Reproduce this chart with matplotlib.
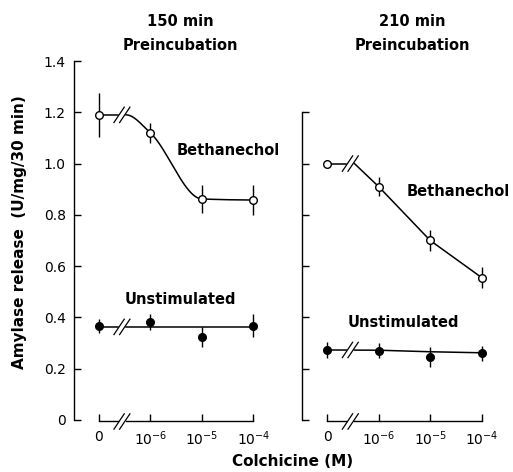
import numpy as np
from matplotlib import pyplot as plt

# x positions: 0, 1e-6, 1e-5, 1e-4 M colchicine (drawn on a categorical axis)
conc_labels = ['0', r'$10^{-6}$', r'$10^{-5}$', r'$10^{-4}$']
xpos = np.arange(4)

# 150 min preincubation
beth_150 = [1.19, 1.12, 0.862, 0.858]
beth_150_err = [0.085, 0.04, 0.055, 0.06]
unst_150 = [0.367, 0.382, 0.324, 0.367]
unst_150_err = [0.027, 0.03, 0.04, 0.045]
unst_150_fit = 0.363

# 210 min preincubation
beth_210 = [1.0, 0.91, 0.70, 0.555]
beth_210_err = [0.015, 0.036, 0.042, 0.04]
unst_210 = [0.273, 0.27, 0.246, 0.26]
unst_210_err = [0.03, 0.03, 0.04, 0.03]
unst_210_fit = [0.273, 0.272, 0.266, 0.262]

yticks = [0, 0.2, 0.4, 0.6, 0.8, 1.0, 1.2, 1.4]
ytick_labels = ['0', '0.2', '0.4', '0.6', '0.8', '1.0', '1.2', '1.4']

BRK = 0.45   # where the axis / lines are broken
GAP = 0.08
YB = -0.006  # level of the x axis line


def pchip(x, y, xs):
    # monotone cubic through the points, flat at both ends
    x = np.asarray(x, float); y = np.asarray(y, float)
    h = np.diff(x); d = np.diff(y) / h
    m = np.zeros(len(x))
    for k in range(1, len(x) - 1):
        if d[k - 1] * d[k] > 0:
            w1 = 2 * h[k] + h[k - 1]; w2 = h[k] + 2 * h[k - 1]
            m[k] = (w1 + w2) / (w1 / d[k - 1] + w2 / d[k])
    out = []
    for v in xs:
        i = min(np.searchsorted(x, v) - 1, len(x) - 2)
        i = max(i, 0)
        t = (v - x[i]) / h[i]
        h00 = 2*t**3 - 3*t**2 + 1; h10 = t**3 - 2*t**2 + t
        h01 = -2*t**3 + 3*t**2; h11 = t**3 - t**2
        out.append(h00*y[i] + h10*h[i]*m[i] + h01*y[i+1] + h11*h[i]*m[i+1])
    return np.array(out)


def slashes(ax, xc, y):
    for off in (-0.055, 0.055):
        ax.plot([xc + off - 0.1, xc + off + 0.1], [y - 0.03, y + 0.03],
                color='k', lw=0.9, clip_on=False)


def setup(ax, top, labels):
    ax.set_xlim(-0.48, 3.12)
    ax.set_ylim(YB, 1.42)
    for s in ['top', 'right', 'bottom']:
        ax.spines[s].set_visible(False)
    ax.spines['left'].set_bounds(0, top)
    ax.spines['left'].set_linewidth(1)
    ax.set_yticks([t for t in yticks if t <= top + 1e-9])
    if labels:
        ax.set_yticklabels(ytick_labels[:len(ax.get_yticks())])
    else:
        ax.set_yticklabels([])
    ax.set_xticks(xpos)
    ax.set_xticklabels(conc_labels)
    ax.tick_params(axis='both', direction='in', length=5, width=1,
                   labelsize=10, pad=6)
    # broken x axis
    ax.plot([0, BRK - GAP], [YB, YB], color='k', lw=1, clip_on=False)
    ax.plot([BRK + GAP, 3], [YB, YB], color='k', lw=1, clip_on=False)
    slashes(ax, BRK, YB)


def points(ax, y, err, filled):
    ax.errorbar(xpos, y, yerr=err, fmt='o', ms=5.5, mew=1,
                mec='k', mfc='k' if filled else 'white', ecolor='k',
                elinewidth=1, capsize=0, zorder=5)


fig = plt.figure(figsize=(5.13, 4.72), dpi=100)
ax1 = fig.add_axes([0.1442, 0.107, 0.3618, 0.7746])
ax2 = fig.add_axes([0.5894, 0.107, 0.3618, 0.7746])

# ---- 150 min ----
setup(ax1, 1.4, True)
ax1.plot([0, BRK - GAP], [beth_150[0]] * 2, color='k', lw=1.1)
xs = np.linspace(BRK + GAP, 3, 200)
ax1.plot(xs, pchip([BRK + GAP, 1, 2, 3], [beth_150[0]] + beth_150[1:], xs),
         color='k', lw=1.1)
slashes(ax1, BRK, beth_150[0])
points(ax1, beth_150, beth_150_err, False)

ax1.plot([0, BRK - GAP], [unst_150_fit] * 2, color='k', lw=1.1)
ax1.plot([BRK + GAP, 3], [unst_150_fit] * 2, color='k', lw=1.1)
slashes(ax1, BRK, unst_150_fit)
points(ax1, unst_150, unst_150_err, True)

ax1.text(2.51, 1.05, 'Bethanechol', ha='center', va='center',
         fontsize=10.5, fontweight='bold')
ax1.text(1.59, 0.468, 'Unstimulated', ha='center', va='center',
         fontsize=10.5, fontweight='bold')

# ---- 210 min ----
setup(ax2, 1.2, False)
ax2.plot([0, BRK - GAP], [beth_210[0]] * 2, color='k', lw=1.1)
ax2.plot([BRK + GAP] + list(xpos[1:]), [beth_210[0]] + beth_210[1:],
         color='k', lw=1.1)
slashes(ax2, BRK, beth_210[0])
points(ax2, beth_210, beth_210_err, False)

fx = [0, BRK - GAP]
ax2.plot(fx, np.interp(fx, xpos, unst_210_fit), color='k', lw=1.1)
fx = [BRK + GAP, 1, 2, 3]
ax2.plot(fx, np.interp(fx, xpos, unst_210_fit), color='k', lw=1.1)
slashes(ax2, BRK, unst_210_fit[0])
points(ax2, unst_210, unst_210_err, True)

ax2.text(2.55, 0.89, 'Bethanechol', ha='center', va='center',
         fontsize=10.5, fontweight='bold')
ax2.text(1.48, 0.382, 'Unstimulated', ha='center', va='center',
         fontsize=10.5, fontweight='bold')

# titles and axis labels
fig.text(180 / 513, 1 - 22 / 472, '150 min', ha='center', va='center',
         fontsize=10.5, fontweight='bold')
fig.text(180 / 513, 1 - 46 / 472, 'Preincubation', ha='center', va='center',
         fontsize=10.5, fontweight='bold')
fig.text(412 / 513, 1 - 22 / 472, '210 min', ha='center', va='center',
         fontsize=10.5, fontweight='bold')
fig.text(412 / 513, 1 - 46 / 472, 'Preincubation', ha='center', va='center',
         fontsize=10.5, fontweight='bold')
fig.text(293 / 513, 1 - 462 / 472, 'Colchicine (M)', ha='center', va='center',
         fontsize=11, fontweight='bold')
fig.text(20 / 513, 1 - 232 / 472, 'Amylase release  (U/mg/30 min)',
         ha='center', va='center', rotation=90, fontsize=11, fontweight='bold')

plt.savefig('out.png', dpi=100)
